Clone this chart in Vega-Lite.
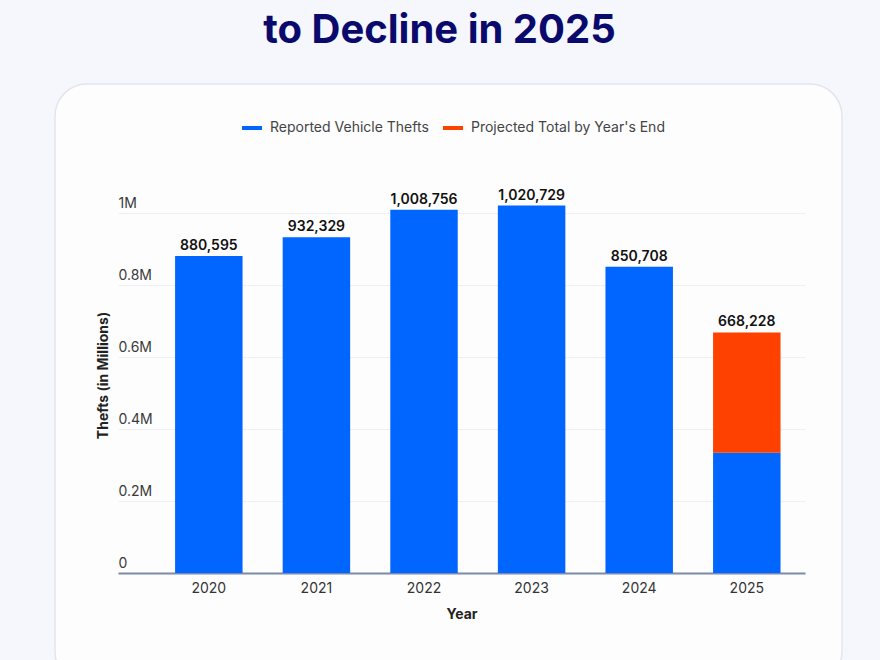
{
  "$schema": "https://vega.github.io/schema/vega-lite/v6.json",
  "autosize": {"type": "none"},
  "padding": {"top": 84, "left": 55, "right": 38, "bottom": 0},
  "width": 787,
  "height": 600,
  "background": "#f5f7fc",
  "title": {
    "text": "to Decline in 2025",
    "fontSize": 40,
    "font": "Inter",
    "fontWeight": 700,
    "color": "#0a0a6c",
    "anchor": "middle",
    "offset": 33,
    "dx": -9
  },
  "data": {
    "values": [
      {"year": "2020", "series": "Reported Vehicle Thefts", "value": 880595},
      {"year": "2021", "series": "Reported Vehicle Thefts", "value": 932329},
      {"year": "2022", "series": "Reported Vehicle Thefts", "value": 1008756},
      {"year": "2023", "series": "Reported Vehicle Thefts", "value": 1020729},
      {"year": "2024", "series": "Reported Vehicle Thefts", "value": 850708},
      {"year": "2025", "series": "Reported Vehicle Thefts", "value": 334114},
      {"year": "2025", "series": "Projected Total by Year's End", "value": 334114}
    ]
  },
  "encoding": {
    "x": {
      "field": "year",
      "type": "ordinal",
      "scale": {"range": [63, 750], "paddingInner": 0.373, "paddingOuter": 0.379, "align": 0.7},
      "axis": {
        "orient": "bottom",
        "offset": -111,
        "labelAngle": 0,
        "ticks": false,
        "tickSize": 0,
        "domainColor": "#7d89a8",
        "domainWidth": 2,
        "labelPadding": 8,
        "labelFontSize": 14,
        "labelColor": "#333333",
        "labelFont": "Inter",
        "title": "Year",
        "titleFont": "Inter",
        "titleFontSize": 14,
        "titleFontWeight": 700,
        "titlePadding": 12,
        "titleColor": "#222222"
      }
    }
  },
  "layer": [
    {
      "mark": {"type": "bar"},
      "encoding": {
        "y": {
          "field": "value",
          "type": "quantitative",
          "stack": "zero",
          "scale": {"domain": [0, 1000000], "range": [489, 129], "nice": false},
          "axis": {
            "orient": "left",
            "offset": -63,
            "values": [0, 200000, 400000, 600000, 800000, 1000000],
            "labelExpr": "datum.value == 0 ? '0' : format(datum.value / 1000000, '~g') + 'M'",
            "ticks": false,
            "tickSize": 0,
            "domain": false,
            "labelAlign": "left",
            "labelBaseline": "alphabetic",
            "labelPadding": 0,
            "labelOffset": -6,
            "labelFontSize": 14,
            "labelFont": "Inter",
            "labelColor": "#3a3a3a",
            "gridColor": "#eef0f5",
            "gridWidth": 1,
            "title": "Thefts (in Millions)",
            "titleFont": "Inter",
            "titleFontSize": 14,
            "titleFontWeight": 700,
            "titleColor": "#222222",
            "titleX": -15,
            "titleY": 291,
            "titleBaseline": "middle",
            "titleAngle": -90
          }
        },
        "color": {
          "field": "series",
          "type": "nominal",
          "scale": {
            "domain": ["Reported Vehicle Thefts", "Projected Total by Year's End"],
            "range": ["#0066ff", "#ff4100"]
          },
          "legend": {
            "orient": "none",
            "legendX": 187,
            "legendY": 34,
            "direction": "horizontal",
            "title": null,
            "symbolType": "M-1,-0.2H1V0.2H-1Z",
            "symbolSize": 400,
            "symbolStrokeWidth": 0,
            "labelFontSize": 14,
            "labelFont": "Inter",
            "labelColor": "#444444",
            "labelOffset": 8,
            "columnPadding": 14,
            "labelLimit": 400
          }
        },
        "order": {"field": "series", "sort": "descending"}
      }
    },
    {
      "mark": {"type": "text", "fontSize": 14, "fontWeight": 600, "font": "Inter", "baseline": "bottom", "dy": -3, "color": "#111111"},
      "encoding": {
        "y": {"aggregate": "sum", "field": "value", "type": "quantitative"},
        "text": {"aggregate": "sum", "field": "value", "type": "quantitative", "format": ","}
      }
    }
  ],
  "config": {
    "font": "Inter",
    "view": {"fill": "#fdfdfe", "stroke": "#e3e5ee", "strokeWidth": 1.5, "cornerRadius": 32}
  }
}
